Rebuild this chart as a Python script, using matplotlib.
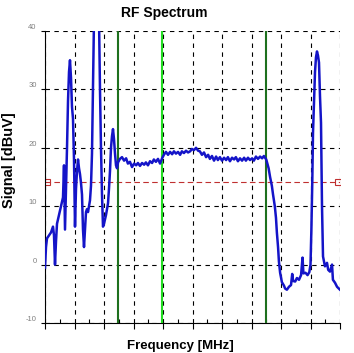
import matplotlib
matplotlib.use("Agg")
import matplotlib.pyplot as plt
from matplotlib.ticker import MultipleLocator

plt.rcParams['font.family'] = ['Liberation Sans', 'DejaVu Sans']

# spectrum trace, frequency in grid units (0..100), signal in dBuV
freq = [0.0, 0.34, 0.68, 1.36, 2.03, 2.71, 3.05, 3.39, 3.73, 4.07, 4.75, 5.42,
        6.10, 6.44, 6.78, 7.12, 7.46, 7.80, 8.14, 8.47, 8.81, 9.15, 9.49, 9.83,
        10.17, 10.51, 10.85, 11.19, 11.53, 11.86, 12.20, 12.54, 12.88, 13.22,
        13.56, 13.90, 14.24, 14.58, 14.92, 15.25, 15.59, 15.93, 16.27, 16.61,
        17.63, 18.31, 18.64, 18.98, 19.32, 19.66, 20.00, 20.68, 21.36, 21.69,
        22.03, 22.37, 22.71, 23.05, 23.39, 23.73, 24.07, 24.41, 24.75,
        25.4, 26.1, 26.8, 27.5, 28.1, 28.8, 29.5, 30.2, 30.9, 31.5, 32.2, 32.9,
        33.6, 34.2, 34.9, 35.6, 36.3, 36.9, 37.6, 38.3, 39.0, 39.7, 40.3, 41.0,
        41.7, 42.4, 43.1, 43.7, 44.4, 45.1, 45.8, 46.4, 47.1, 47.8, 48.5, 49.2,
        49.8, 50.5, 51.2, 51.9, 52.5, 53.2, 53.9, 54.6, 55.3, 55.9, 56.6, 57.3,
        58.0, 58.6, 59.3, 60.0, 60.7, 61.4, 62.0, 62.7, 63.4, 64.1, 64.7, 65.4,
        66.1, 66.8, 67.5, 68.1, 68.8, 69.5, 70.2, 70.8, 71.5, 72.2, 72.9, 73.6,
        74.2, 75.0,
        75.8, 76.3, 76.9, 77.3, 77.9, 78.3, 78.6, 79.0, 79.3, 79.7, 80.3, 81.0,
        81.4, 82.0, 82.7, 83.4, 83.8, 84.1, 84.8, 85.4, 86.1, 86.8, 87.3, 87.6,
        88.3, 89.0, 89.6, 90.0, 90.3, 90.6, 90.85, 91.19, 91.53, 91.86, 92.20,
        92.54, 92.88, 93.22, 93.56, 93.90, 94.24, 94.9, 95.6, 96.0, 96.6, 97.3,
        97.6, 98.3, 99.0, 100.0]
signal = [-0.5, 3.0, 4.5, 5.0, 5.5, 6.5, 5.0, 0.0, 4.0, 7.0, 8.5, 10.0,
          11.5, 17.0, 6.0, 13.0, 20.0, 28.0, 33.0, 35.0, 32.0, 27.0, 25.0, 18.0,
          6.5, 13.0, 16.0, 18.0, 16.5, 15.5, 14.0, 12.0, 6.0, 3.0,
          6.0, 9.0, 9.5, 9.0, 10.0, 11.0, 13.5, 19.0, 30.0, 42.0,
          45.0, 42.0, 30.0, 20.0, 12.0, 6.5, 7.0, 8.5, 10.5, 13.0,
          16.0, 20.0, 22.0, 23.2, 21.5, 19.0, 17.0, 16.5, 17.5,
          18.1, 18.4, 17.8, 18.2, 17.3, 17.6, 16.7, 17.3, 17.0, 17.4, 16.9, 17.4,
          17.1, 17.5, 17.0, 17.7, 17.4, 18.0, 17.6, 18.1, 17.3, 18.2, 18.8, 19.3,
          18.8, 19.3, 18.9, 19.4, 19.0, 19.3, 18.8, 19.4, 19.1, 19.5, 19.2, 19.4,
          19.8, 19.6, 20.0, 19.5, 19.4, 18.8, 19.2, 18.4, 18.8, 18.1, 18.6, 17.8,
          18.5, 17.9, 18.4, 17.8, 18.3, 17.9, 18.4, 17.7, 18.3, 18.0, 18.4, 17.7,
          18.2, 17.8, 18.3, 17.8, 18.3, 17.9, 18.2, 17.8, 18.5, 18.1, 18.5, 18.2,
          18.6, 18.0,
          16.5, 15.0, 13.5, 12.0, 10.0, 8.0, 5.5, 3.0, 0.5, -1.4, -3.0, -3.6,
          -4.1, -4.3, -3.8, -3.5, -1.6, -2.8, -2.9, -2.3, -2.6, -1.8, 1.2, -1.5,
          -1.4, -1.8, -1.3, 0.0, 6.0, 14.0, 22.6, 28.0, 33.0, 35.5, 36.5,
          35.8, 34.6, 28.8, 24.3, 10.0, 1.4, -0.3, 0.3, -0.9, -1.2, 0.0,
          -2.6, -3.1, -3.8, -4.3]

markers_dark = [24.75, 75.0]   # dark green markers
marker_light = 39.5            # light green marker
threshold = 14.2               # red reference level
yticks = [-10, 0, 10, 20, 30, 40]

fig = plt.figure(figsize=(3.54, 3.53), dpi=100)
ax = fig.add_axes([45 / 354, 1 - 323 / 353, 295 / 354, 292 / 353])

ax.set_xlim(0, 100)
ax.set_ylim(-10, 40)

ax.xaxis.set_major_locator(MultipleLocator(10))
ax.xaxis.set_minor_locator(MultipleLocator(5))
ax.set_xticklabels([])
ax.set_yticks(yticks)
ax.set_yticklabels([str(t) for t in yticks], fontsize=5.5, color='#808080')
for lbl in ax.get_yticklabels():
    lbl.set_verticalalignment('bottom')

ax.grid(True, which='major', color='black', linestyle=(0, (4, 4)), linewidth=0.8)
ax.spines['top'].set_visible(False)
ax.spines['right'].set_visible(False)
ax.tick_params(axis='x', which='major', direction='out', length=4, width=0.8)
ax.tick_params(axis='x', which='minor', direction='in', length=3, width=0.8)
ax.tick_params(axis='y', direction='out', length=3, width=0.8, pad=3)

for m in markers_dark:
    ax.axvline(m, color='#1e701e', linewidth=1.5, zorder=3)
ax.axvline(marker_light, color='#22dd22', linewidth=1.5, zorder=3)

ax.plot([0, 100], [threshold, threshold], color='#c03030', linestyle=(0, (5, 3)),
        linewidth=0.8, zorder=2)
ax.plot([0.7, 99.3], [threshold, threshold], linestyle='none', marker='s',
        markersize=4.5, markerfacecolor='none', markeredgecolor='#c03030',
        markeredgewidth=0.8, zorder=2)

ax.plot(freq, signal, color='#1414c8', linewidth=1.8, zorder=4)

fig.text(0.463, 1 - 13 / 353, 'RF Spectrum', fontsize=10, fontweight='bold',
         ha='center', va='center')
fig.text(180 / 354, 1 - 346 / 353, 'Frequency [MHz]', fontsize=9.5,
         fontweight='bold', ha='center', va='center')
fig.text(9 / 354, 1 - 160 / 353, 'Signal [dBuV]', fontsize=10.5,
         fontweight='bold', ha='center', va='center', rotation=90)

plt.savefig('out.png', dpi=100)
